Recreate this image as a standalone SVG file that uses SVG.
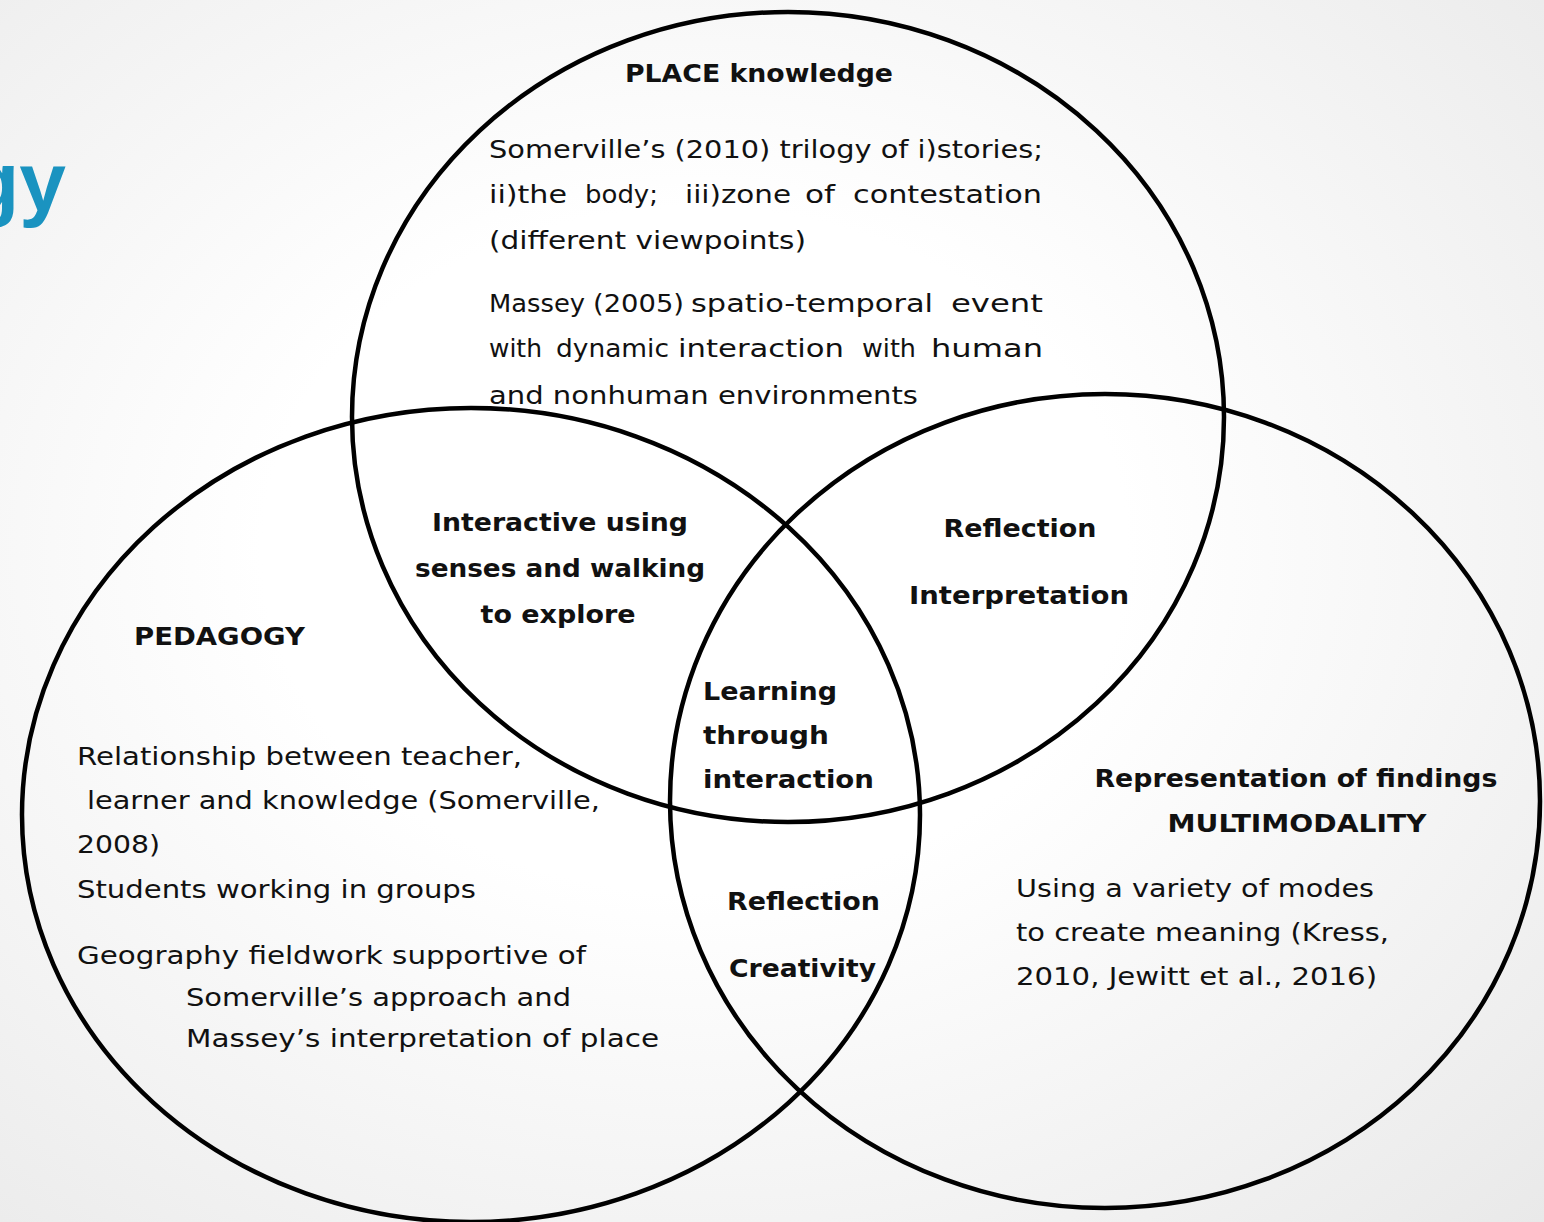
<svg xmlns="http://www.w3.org/2000/svg" width="1544" height="1222" viewBox="0 0 1544 1222">
  <defs>
    <radialGradient id="bg" cx="0.45" cy="0.45" r="0.8">
      <stop offset="0.35" stop-color="#ffffff"/>
      <stop offset="1" stop-color="#e8e8e8"/>
    </radialGradient>
    <style>
      .ring { fill: none; stroke: #000; stroke-width: 4.5; }
      .body { font-family: "DejaVu Sans", "Liberation Sans", sans-serif; font-size: 25px; fill: #111; }
      .head { font-family: "DejaVu Sans", "Liberation Sans", sans-serif; font-size: 25px; font-weight: bold; fill: #111; }
      .title { font-family: "Liberation Sans", Arial, sans-serif; font-size: 84px; font-weight: bold; fill: #1a93c0; }
    </style>
  </defs>

  <rect width="1544" height="1222" fill="url(#bg)"/>

  <!-- slide title, running off the left edge -->
  <text class="title" x="66" y="211" text-anchor="end">gy</text>

  <!-- the three overlapping sets -->
  <g id="connectors">
    <ellipse class="ring" cx="788" cy="417" rx="436" ry="405"/>
    <ellipse class="ring" cx="471" cy="815" rx="449" ry="407"/>
    <ellipse class="ring" cx="1105" cy="801" rx="435" ry="407"/>
  </g>

  <g id="place">
    <text class="head" x="759" y="82" text-anchor="middle" textLength="268" lengthAdjust="spacingAndGlyphs">PLACE knowledge</text>
    <text class="body" x="489" y="158" textLength="554" lengthAdjust="spacingAndGlyphs">Somerville’s (2010) trilogy of i)stories;</text>
    <!-- justified line: words placed individually -->
    <g class="body">
      <text x="489" y="203" textLength="78" lengthAdjust="spacingAndGlyphs">ii)the</text>
      <text x="585" y="203" textLength="73" lengthAdjust="spacingAndGlyphs">body;</text>
      <text x="685" y="203" textLength="106" lengthAdjust="spacingAndGlyphs">iii)zone</text>
      <text x="805" y="203" textLength="30" lengthAdjust="spacingAndGlyphs">of</text>
      <text x="853" y="203" textLength="189" lengthAdjust="spacingAndGlyphs">contestation</text>
    </g>
    <text class="body" x="489" y="249" textLength="317" lengthAdjust="spacingAndGlyphs">(different viewpoints)</text>
    <g class="body">
      <text x="489" y="312" textLength="96" lengthAdjust="spacingAndGlyphs">Massey</text>
      <text x="593" y="312" textLength="91" lengthAdjust="spacingAndGlyphs">(2005)</text>
      <text x="691" y="312" textLength="242" lengthAdjust="spacingAndGlyphs">spatio-temporal</text>
      <text x="951" y="312" textLength="92" lengthAdjust="spacingAndGlyphs">event</text>
    </g>
    <g class="body">
      <text x="489" y="357" textLength="53" lengthAdjust="spacingAndGlyphs">with</text>
      <text x="556" y="357" textLength="113" lengthAdjust="spacingAndGlyphs">dynamic</text>
      <text x="678" y="357" textLength="166" lengthAdjust="spacingAndGlyphs">interaction</text>
      <text x="862" y="357" textLength="54" lengthAdjust="spacingAndGlyphs">with</text>
      <text x="931" y="357" textLength="112" lengthAdjust="spacingAndGlyphs">human</text>
    </g>
    <text class="body" x="489" y="404" textLength="429" lengthAdjust="spacingAndGlyphs">and nonhuman environments</text>
  </g>

  <g id="place-pedagogy">
    <text class="head" x="560" y="531" text-anchor="middle" textLength="256" lengthAdjust="spacingAndGlyphs">Interactive using</text>
    <text class="head" x="560" y="577" text-anchor="middle" textLength="290" lengthAdjust="spacingAndGlyphs">senses and walking</text>
    <text class="head" x="558" y="623" text-anchor="middle" textLength="155" lengthAdjust="spacingAndGlyphs">to explore</text>
  </g>

  <g id="place-representation">
    <text class="head" x="1020" y="537" text-anchor="middle" textLength="153" lengthAdjust="spacingAndGlyphs">Reflection</text>
    <text class="head" x="1019" y="604" text-anchor="middle" textLength="220" lengthAdjust="spacingAndGlyphs">Interpretation</text>
  </g>

  <g id="centre">
    <text class="head" x="703" y="700" textLength="134" lengthAdjust="spacingAndGlyphs">Learning</text>
    <text class="head" x="703" y="744" textLength="126" lengthAdjust="spacingAndGlyphs">through</text>
    <text class="head" x="703" y="788" textLength="171" lengthAdjust="spacingAndGlyphs">interaction</text>
  </g>

  <g id="pedagogy-representation">
    <text class="head" x="727" y="910" textLength="153" lengthAdjust="spacingAndGlyphs">Reflection</text>
    <text class="head" x="729" y="977" textLength="147" lengthAdjust="spacingAndGlyphs">Creativity</text>
  </g>

  <g id="pedagogy">
    <text class="head" x="134" y="645" textLength="171" lengthAdjust="spacingAndGlyphs">PEDAGOGY</text>
    <text class="body" x="77" y="765" textLength="445" lengthAdjust="spacingAndGlyphs">Relationship between teacher,</text>
    <text class="body" x="87" y="809" textLength="513" lengthAdjust="spacingAndGlyphs">learner and knowledge (Somerville,</text>
    <text class="body" x="77" y="853" textLength="83" lengthAdjust="spacingAndGlyphs">2008)</text>
    <text class="body" x="77" y="898" textLength="399" lengthAdjust="spacingAndGlyphs">Students working in groups</text>
    <text class="body" x="77" y="964" textLength="509" lengthAdjust="spacingAndGlyphs">Geography fieldwork supportive of</text>
    <text class="body" x="186" y="1006" textLength="385" lengthAdjust="spacingAndGlyphs">Somerville’s approach and</text>
    <text class="body" x="186" y="1047" textLength="473" lengthAdjust="spacingAndGlyphs">Massey’s interpretation of place</text>
  </g>

  <g id="representation">
    <text class="head" x="1296" y="787" text-anchor="middle" textLength="403" lengthAdjust="spacingAndGlyphs">Representation of findings</text>
    <text class="head" x="1297" y="832" text-anchor="middle" textLength="259" lengthAdjust="spacingAndGlyphs">MULTIMODALITY</text>
    <text class="body" x="1016" y="897" textLength="358" lengthAdjust="spacingAndGlyphs">Using a variety of modes</text>
    <text class="body" x="1016" y="941" textLength="373" lengthAdjust="spacingAndGlyphs">to create meaning (Kress,</text>
    <text class="body" x="1016" y="985" textLength="361" lengthAdjust="spacingAndGlyphs">2010, Jewitt et al., 2016)</text>
  </g>
</svg>
